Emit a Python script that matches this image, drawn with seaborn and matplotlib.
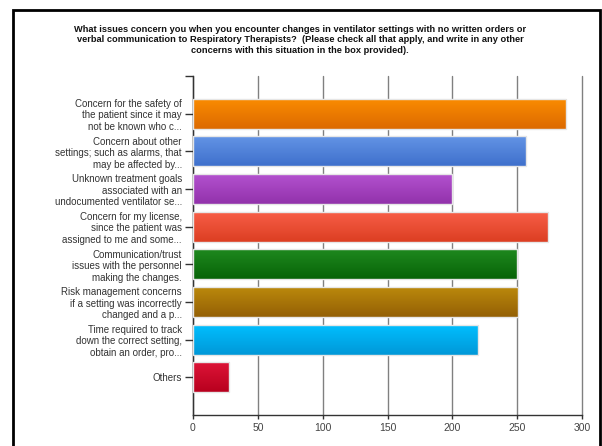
import numpy as np
import pandas as pd
import matplotlib
matplotlib.use("Agg")
import matplotlib.pyplot as plt
import seaborn as sns
from matplotlib.colors import LinearSegmentedColormap
from matplotlib.patches import Rectangle

title = ("What issues concern you when you encounter changes in ventilator settings with no written orders or\n"
         "verbal communication to Respiratory Therapists?  (Please check all that apply, and write in any other\n"
         "concerns with this situation in the box provided).")

categories = [
    "Concern for the safety of\nthe patient since it may\nnot be known who c...",
    "Concern about other\nsettings; such as alarms, that\nmay be affected by...",
    "Unknown treatment goals\nassociated with an\nundocumented ventilator se...",
    "Concern for my license,\nsince the patient was\nassigned to me and some...",
    "Communication/trust\nissues with the personnel\nmaking the changes.",
    "Risk management concerns\nif a setting was incorrectly\nchanged and a p...",
    "Time required to track\ndown the correct setting,\nobtain an order, pro...",
    "Others",
]
values = [288, 257, 200, 274, 250, 251, 220, 28]
top_colors = ["#FB8C00", "#6495E6", "#B452D0", "#F85F48", "#1F8A1F", "#BC8A0C", "#00BFFF", "#DE1538"]
bottom_colors = ["#DC6A00", "#3F70CC", "#9232AB", "#DC3E22", "#086408", "#946005", "#0098D8", "#B8001E"]
x_ticks = [0, 50, 100, 150, 200, 250, 300]

sns.set_theme(style="white")
plt.rcParams["font.family"] = ["Liberation Sans", "DejaVu Sans"]

W, H = 602, 446
fig = plt.figure(figsize=(W / 100, H / 100), dpi=100)
ax = fig.add_axes([193 / W, (H - 415) / H, (582 - 193) / W, (415 - 76) / H])

df = pd.DataFrame({"category": categories, "value": values})
sns.barplot(data=df, x="value", y="category", hue="category", palette=top_colors,
            legend=False, ax=ax, width=0.8, edgecolor="#e6e6e6", linewidth=1.0,
            saturation=1, zorder=3)

grad = np.linspace(0, 1, 64).reshape(-1, 1)
for patch, c0, c1 in zip(ax.patches, top_colors, bottom_colors):
    x0, y0 = patch.get_x(), patch.get_y()
    w, h = patch.get_width(), patch.get_height()
    cmap = LinearSegmentedColormap.from_list("g", [c0, c1])
    im = ax.imshow(grad, extent=(x0, x0 + w, y0 + h, y0), aspect="auto",
                   cmap=cmap, origin="upper", zorder=3.5, interpolation="bilinear")
    im.set_clip_path(patch)
    patch.set_facecolor("none")
    patch.set_zorder(4)

ax.set_xlim(0, 300)
ax.set_ylim(len(categories), -1)
ax.set_xticks(x_ticks)
ax.set_xticklabels([str(t) for t in x_ticks])
ax.set_yticks(range(len(categories)))
ax.set_yticklabels(categories)
ax.set_yticks([-1], minor=True)
ax.set_xlabel("")
ax.set_ylabel("")
ax.set_aspect("auto")

ax.xaxis.grid(True, color="#808080", linewidth=1.0)
ax.yaxis.grid(False)
ax.set_axisbelow(True)
for line in ax.get_xgridlines():
    line.set_clip_on(False)
for s in ["top", "right"]:
    ax.spines[s].set_visible(False)
for s in ["left", "bottom"]:
    ax.spines[s].set_color("#333333")
    ax.spines[s].set_linewidth(1.0)

ax.tick_params(axis="y", which="both", left=True, length=6, width=1, color="#333333",
               pad=2, labelsize=7, labelcolor="#333333")
ax.tick_params(axis="x", bottom=True, length=3, width=1, color="#333333",
               pad=3, labelsize=7.5, labelcolor="#444444")
for lbl in ax.get_yticklabels():
    lbl.set_linespacing(1.2)

fig.text(300 / W, 1 - 25 / H, title, ha="center", va="top", fontsize=6.7,
         fontweight="bold", color="#111111", linespacing=1.2)

fig.add_artist(Rectangle((13 / W, -0.05), (600 - 13) / W, (H - 10) / H + 0.05,
                         transform=fig.transFigure, fill=False, lw=2, ec="black"))

fig.savefig("out.png", dpi=100)
